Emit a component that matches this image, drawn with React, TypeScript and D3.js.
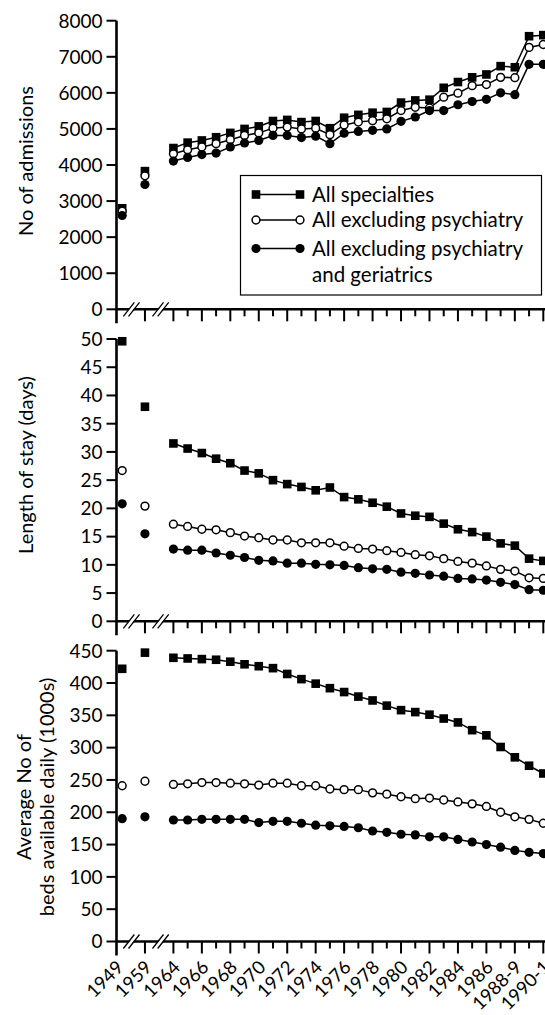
import React, { useRef, useEffect } from "react";
import * as d3 from "d3";

const categories = [
  "1949", "1959", "1964", "1965", "1966", "1967", "1968", "1969", "1970", "1971",
  "1972", "1973", "1974", "1975", "1976", "1977", "1978", "1979", "1980", "1981",
  "1982", "1983", "1984", "1985", "1986", "1987", "1988-9", "1989-90", "1990-1",
];
const labelled = [
  "1949", "1959", "1964", "1966", "1968", "1970", "1972", "1974", "1976", "1978",
  "1980", "1982", "1984", "1986", "1988-9", "1990-1",
];

const seriesNames = ["All specialties", "All excluding psychiatry", "All excluding psychiatry"];

// admissions
const admAll = [2800, 3830, 4470, 4620, 4680, 4770, 4890, 5000, 5070, 5220, 5250, 5190, 5220, 5020, 5310, 5390, 5450, 5470, 5730, 5790, 5810, 6140, 6300, 6430, 6510, 6740, 6710, 7570, 7600];
const admExPsy = [2720, 3700, 4310, 4420, 4500, 4590, 4700, 4820, 4890, 5020, 5050, 5000, 5020, 4840, 5110, 5190, 5230, 5280, 5510, 5600, 5580, 5880, 5990, 6200, 6230, 6430, 6420, 7260, 7340];
const admExPsyGer = [2600, 3460, 4110, 4210, 4290, 4330, 4500, 4610, 4680, 4820, 4820, 4760, 4800, 4590, 4880, 4930, 4960, 5000, 5210, 5330, 5510, 5510, 5670, 5760, 5820, 6000, 5950, 6790, 6790];

// length of stay (days)
const losAll = [49.6, 38.0, 31.5, 30.6, 29.8, 28.8, 28.0, 26.7, 26.2, 25.0, 24.3, 23.8, 23.2, 23.7, 22.0, 21.6, 21.0, 20.3, 19.1, 18.7, 18.5, 17.3, 16.3, 15.8, 15.0, 13.8, 13.4, 11.1, 10.7];
const losExPsy = [26.7, 20.4, 17.2, 16.8, 16.3, 16.2, 15.7, 15.1, 14.8, 14.4, 14.4, 13.9, 13.9, 13.9, 13.3, 12.9, 12.8, 12.5, 12.2, 11.8, 11.6, 11.1, 10.6, 10.3, 9.8, 9.2, 8.9, 7.7, 7.6];
const losExPsyGer = [20.8, 15.5, 12.8, 12.6, 12.6, 12.1, 11.7, 11.3, 10.8, 10.7, 10.3, 10.3, 10.1, 10.0, 9.9, 9.5, 9.3, 9.2, 8.7, 8.5, 8.2, 8.0, 7.6, 7.5, 7.3, 6.9, 6.5, 5.6, 5.5];

// average beds available daily (1000s)
const bedsAll = [422, 447, 439, 438, 437, 436, 433, 429, 426, 423, 414, 406, 399, 392, 386, 379, 373, 365, 358, 355, 351, 345, 339, 327, 319, 301, 285, 272, 260];
const bedsExPsy = [241, 248, 243, 244, 246, 246, 245, 244, 242, 245, 245, 241, 241, 236, 235, 235, 230, 228, 224, 221, 222, 219, 216, 213, 209, 200, 193, 189, 183];
const bedsExPsyGer = [190, 193, 188, 188, 189, 189, 189, 189, 184, 186, 186, 183, 180, 179, 178, 176, 171, 169, 166, 165, 162, 162, 158, 154, 150, 146, 141, 138, 136];

const admTicks = [0, 1000, 2000, 3000, 4000, 5000, 6000, 7000, 8000];
const losTicks = [0, 5, 10, 15, 20, 25, 30, 35, 40, 45, 50];
const bedsTicks = [0, 50, 100, 150, 200, 250, 300, 350, 400, 450];

const FONT = "Lato, 'Open Sans', sans-serif";

const App = () => {
  const ref = useRef(null);

  useEffect(() => {
    const svgWidth = 545;
    const svgHeight = 1015;
    const svg = d3.select(ref.current)
      .attr("width", svgWidth)
      .attr("height", svgHeight);
    svg.selectAll("*").remove();

    // broken axis: 1949 | 1959 | 1964.. each gap counts as two steps
    const xScale = d3.scaleLinear().domain([0, 30]).range([116.5, 543.3]);
    const slot = (i) => (i === 0 ? 0 : i === 1 ? 2 : i + 2);
    const pointX = (i) => (i === 0 ? xScale(0.4) : xScale(slot(i)));
    const axisX = xScale(0);

    const panels = [
      { series: [admAll, admExPsy, admExPsyGer], ticks: admTicks, range: [309.3, 20.7], title: ["No of admissions"], titleY: 161 },
      { series: [losAll, losExPsy, losExPsyGer], ticks: losTicks, range: [621.3, 339], title: ["Length of stay (days)"], titleY: 465 },
      { series: [bedsAll, bedsExPsy, bedsExPsyGer], ticks: bedsTicks, range: [941.5, 650.7], title: ["Average No of", "beds available daily (1000s)"], titleY: 797 },
    ];

    const drawMarker = (g, kind, cx, cy) => {
      if (kind === 0) {
        g.append("rect").attr("x", cx - 4.3).attr("y", cy - 4.3)
          .attr("width", 8.6).attr("height", 8.6).attr("fill", "#000");
      } else if (kind === 1) {
        g.append("circle").attr("cx", cx).attr("cy", cy).attr("r", 3.9)
          .attr("fill", "#fff").attr("stroke", "#000").attr("stroke-width", 1.5);
      } else {
        g.append("circle").attr("cx", cx).attr("cy", cy).attr("r", 4.6).attr("fill", "#000");
      }
    };

    panels.forEach((p, pi) => {
      const g = svg.append("g");
      const yScale = d3.scaleLinear().domain([0, d3.max(p.ticks)]).range(p.range);
      const y0 = yScale(0);
      const isLast = pi === panels.length - 1;

      // x axis
      g.append("line").attr("x1", axisX).attr("x2", svgWidth).attr("y1", y0).attr("y2", y0)
        .attr("stroke", "#000").attr("stroke-width", 2.6);
      // y axis (runs on below the baseline as the 1949 tick)
      g.append("line").attr("x1", axisX).attr("x2", axisX)
        .attr("y1", yScale(d3.max(p.ticks))).attr("y2", y0 + 14)
        .attr("stroke", "#000").attr("stroke-width", 2.6);

      // y ticks + labels
      p.ticks.forEach((t) => {
        g.append("line").attr("x1", axisX - 10).attr("x2", axisX)
          .attr("y1", yScale(t)).attr("y2", yScale(t))
          .attr("stroke", "#000").attr("stroke-width", 2);
        g.append("text").attr("x", axisX - 14).attr("y", yScale(t)).attr("dy", "0.36em")
          .attr("text-anchor", "end").attr("font-family", FONT).attr("font-size", 19)
          .text(t);
      });

      // x ticks
      categories.forEach((c, i) => {
        if (i === 0) return;
        const tx = xScale(slot(i));
        const long = labelled.includes(c);
        g.append("line").attr("x1", tx).attr("x2", tx)
          .attr("y1", y0).attr("y2", y0 + (long ? 12 : 7))
          .attr("stroke", "#000").attr("stroke-width", 2);
      });

      // break marks
      [1.05, 3.1].forEach((s) => {
        const bx = xScale(s);
        g.append("polygon")
          .attr("points", `${bx - 5},${y0 + 4} ${bx - 1},${y0 + 4} ${bx + 5},${y0 - 4} ${bx + 1},${y0 - 4}`)
          .attr("fill", "#fff");
        [-2.6, 2.6].forEach((o) => {
          g.append("line")
            .attr("x1", bx + o - 5.5).attr("y1", y0 + 7)
            .attr("x2", bx + o + 5.5).attr("y2", y0 - 7)
            .attr("stroke", "#000").attr("stroke-width", 1.3);
        });
      });

      // series lines (from 1964 onward) and markers
      p.series.forEach((vals) => {
        const pts = vals.map((v, i) => [pointX(i), yScale(v)]);
        const line = d3.line();
        g.append("path").attr("d", line(pts.slice(2)))
          .attr("fill", "none").attr("stroke", "#000").attr("stroke-width", 1.5);
      });
      p.series.forEach((vals, si) => {
        vals.forEach((v, i) => drawMarker(g, si, pointX(i), yScale(v)));
      });

      // y title
      const tg = g.append("text").attr("font-family", FONT).attr("font-size", 20)
        .attr("text-anchor", "middle")
        .attr("transform", `translate(${p.title.length > 1 ? 31 : 33},${p.titleY}) rotate(-90)`);
      p.title.forEach((line, li) => {
        tg.append("tspan").attr("x", 0).attr("dy", li === 0 ? 0 : 23).text(line);
      });

      // category labels under last panel
      if (isLast) {
        categories.forEach((c, i) => {
          if (!labelled.includes(c)) return;
          const tx = i === 0 ? axisX : xScale(slot(i));
          g.append("text")
            .attr("transform", `translate(${tx + 8},${y0 + 27}) rotate(-45)`)
            .attr("text-anchor", "end").attr("font-family", FONT).attr("font-size", 18.5)
            .text(c);
        });
      }
    });

    // legend
    const lg = svg.append("g");
    lg.append("rect").attr("x", 240.5).attr("y", 175.5).attr("width", 301).attr("height", 119.5)
      .attr("fill", "#fff").attr("stroke", "#000").attr("stroke-width", 1.2);
    const rowsY = [194.5, 220, 248.5];
    seriesNames.forEach((name, si) => {
      const ly = rowsY[si];
      lg.append("line").attr("x1", 256).attr("x2", 300).attr("y1", ly).attr("y2", ly)
        .attr("stroke", "#000").attr("stroke-width", 1.5);
      drawMarker(lg, si, 256, ly);
      drawMarker(lg, si, 300, ly);
      lg.append("text").attr("x", 312).attr("y", ly).attr("dy", "0.36em")
        .attr("font-family", FONT).attr("font-size", 20.5).text(name);
    });
    lg.append("text").attr("x", 312).attr("y", 275).attr("dy", "0.36em")
      .attr("font-family", FONT).attr("font-size", 20.5).text("and geriatrics");
  }, []);

  return (
    <div style={{ position: "absolute", left: 0, top: 0 }}>
      <svg ref={ref} style={{ display: "block", background: "#fff" }}></svg>
    </div>
  );
};

export default App;
